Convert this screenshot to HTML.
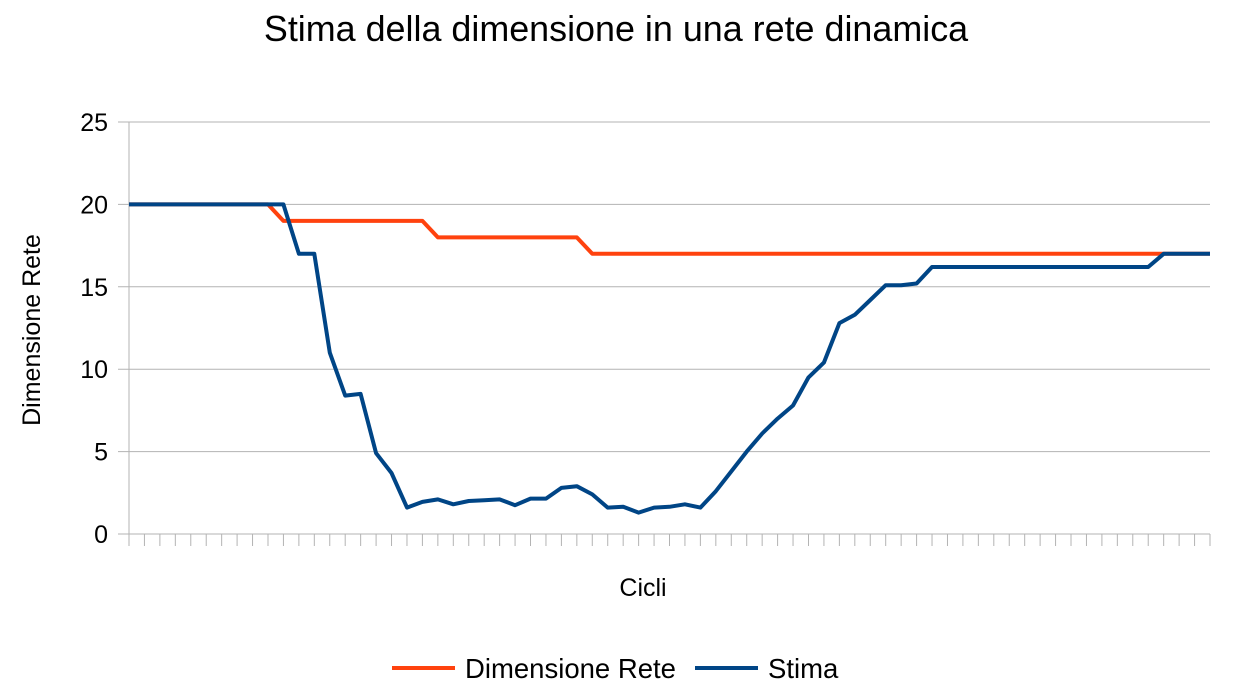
<!DOCTYPE html>
<html><head><meta charset="utf-8"><style>
body{margin:0;background:#fff;}
svg text{font-family:"Liberation Sans",sans-serif;fill:#000;}
</style></head><body>
<svg id="chart" width="1250" height="695" viewBox="0 0 1250 695">
<text x="616" y="41" font-size="35.9" text-anchor="middle">Stima della dimensione in una rete dinamica</text>
<g id="grid"></g>
<g id="yticks"></g>
<g id="xticks"></g>
<text transform="translate(40,330) rotate(-90)" font-size="25" text-anchor="middle">Dimensione Rete</text>
<text x="643" y="596" font-size="25" text-anchor="middle">Cicli</text>
<g id="series"></g>
<g>
<line x1="392" y1="668" x2="455" y2="668" stroke="#ff420e" stroke-width="4"/>
<text x="465" y="678" font-size="27.5">Dimensione Rete</text>
<line x1="695" y1="668" x2="758" y2="668" stroke="#004586" stroke-width="4"/>
<text x="768" y="678" font-size="27.5">Stima</text>
</g>
</svg>
<script>
const yTicks=[0,5,10,15,20,25];
const dimensione=[20,20,20,20,20,20,20,20,20,20,19,19,19,19,19,19,19,19,19,19,18,18,18,18,18,18,18,18,18,18,17,17,17,17,17,17,17,17,17,17,17,17,17,17,17,17,17,17,17,17,17,17,17,17,17,17,17,17,17,17,17,17,17,17,17,17,17,17,17,17,17];
const stima=[20,20,20,20,20,20,20,20,20,20,20,17,17,11,8.4,8.5,4.9,3.7,1.6,1.95,2.1,1.8,2.0,2.05,2.1,1.75,2.15,2.15,2.8,2.9,2.4,1.6,1.65,1.3,1.6,1.65,1.8,1.6,2.6,3.8,5.0,6.1,7.0,7.8,9.5,10.4,12.8,13.3,14.2,15.1,15.1,15.2,16.2,16.2,16.2,16.2,16.2,16.2,16.2,16.2,16.2,16.2,16.2,16.2,16.2,16.2,16.2,17,17,17,17];
const X0=129,X1=1210,Y0=534,Y1=122,YMAX=25;
const n=stima.length;
const xs=i=>X0+(X1-X0)*i/(n-1);
const ys=v=>Y0-(Y0-Y1)*v/YMAX;
const NS="http://www.w3.org/2000/svg";
function mk(t,a,p){const e=document.createElementNS(NS,t);for(const k in a)e.setAttribute(k,a[k]);p.appendChild(e);return e;}
const grid=document.getElementById('grid'),yt=document.getElementById('yticks'),xt=document.getElementById('xticks'),se=document.getElementById('series');
yTicks.forEach(v=>{
  const l=mk('line',{x1:118,x2:X1,y1:ys(v),y2:ys(v),stroke:'#b3b3b3','stroke-width':1},grid);
  
  
  const t=mk('text',{x:108,y:ys(v)+9,'font-size':25,'text-anchor':'end'},yt);
  t.textContent=v;
  
  
});
const ax=mk('line',{x1:X0,x2:X0,y1:Y1,y2:Y0+12,stroke:'#b3b3b3','stroke-width':1},grid);


for(let i=0;i<n;i++){
  const l=mk('line',{x1:xs(i),x2:xs(i),y1:Y0,y2:Y0+12,stroke:'#b3b3b3','stroke-width':1},xt);
  
  
}
function path(arr){return arr.map((v,i)=>(i?'L':'M')+xs(i).toFixed(1)+','+ys(v).toFixed(1)).join('');}
const p1=mk('path',{d:path(dimensione),fill:'none',stroke:'#ff420e','stroke-width':4,'stroke-linejoin':'round'},se);


const p2=mk('path',{d:path(stima),fill:'none',stroke:'#004586','stroke-width':4,'stroke-linejoin':'round'},se);


</script>
</body></html>
